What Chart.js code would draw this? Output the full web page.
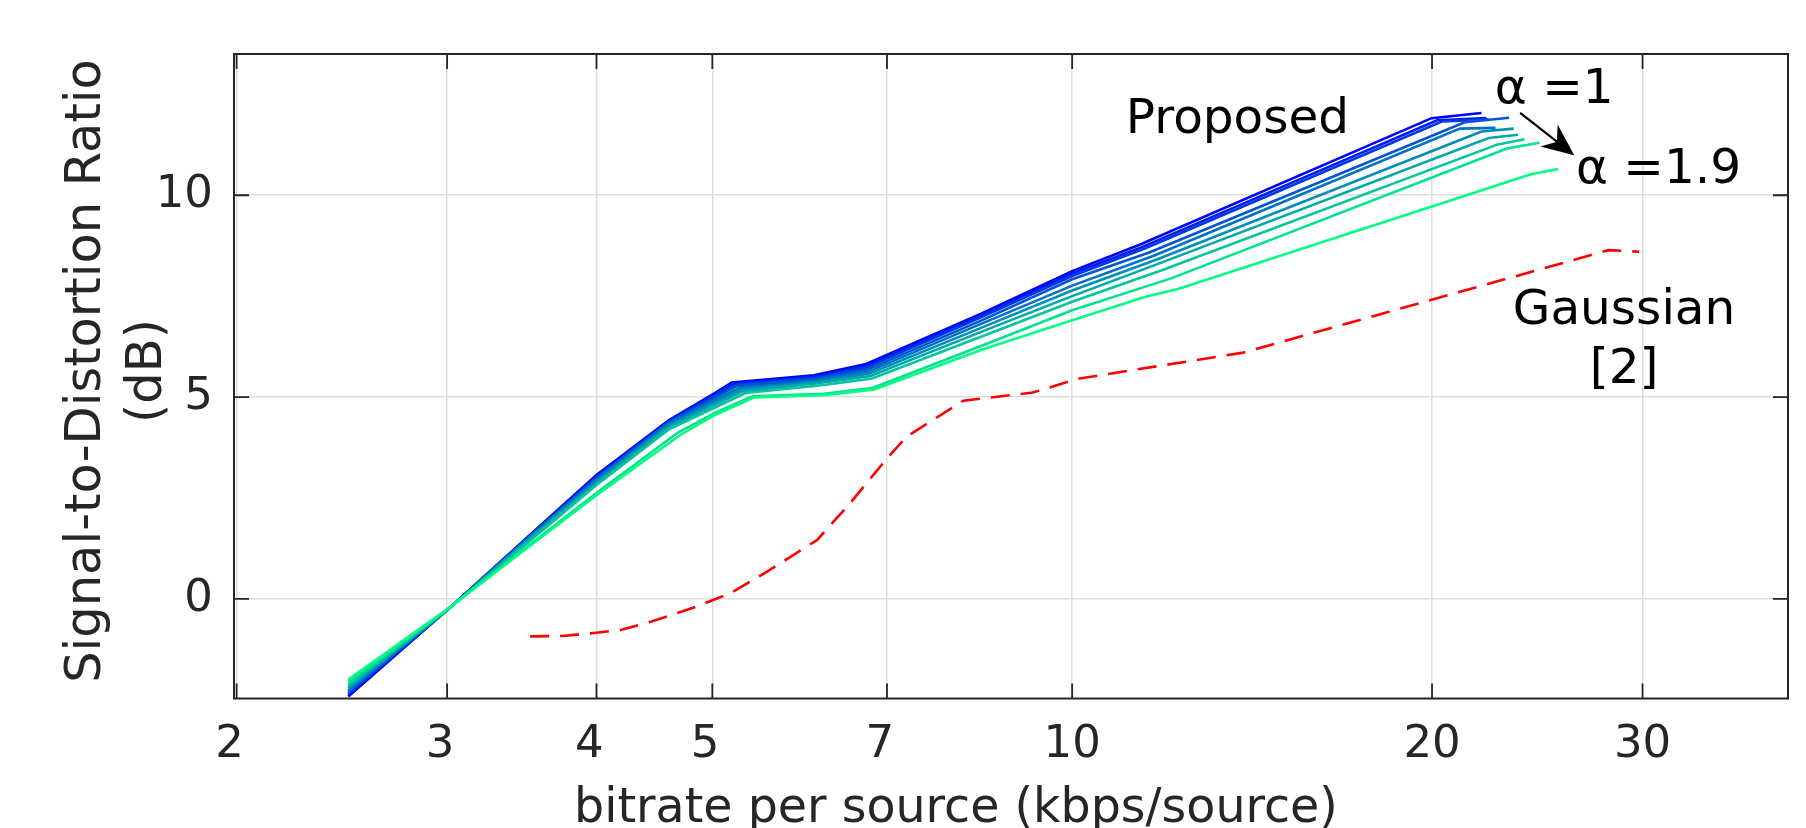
<!DOCTYPE html>
<html>
<head>
<meta charset="utf-8">
<script src="https://cdn.jsdelivr.net/npm/chart.js@4.4.1/dist/chart.umd.min.js"></script>
<style>
  html, body { margin: 0; padding: 0; background: #fff; }
</style>
</head>
<body>
<canvas id="sdr" width="1806" height="828"></canvas>
<script>
// tick labels
const xTicks = [2, 3, 4, 5, 7, 10, 20, 30];
const yTicks = [0, 5, 10];

// proposed scheme, one curve per alpha (bitrate kbps/source, SDR dB)
const alphas = [1.0, 1.1, 1.2, 1.3, 1.4, 1.5, 1.6, 1.7, 1.8, 1.9];

const rate10 = [2.48, 3.0, 3.5, 4.0, 4.6, 5.02, 5.19, 6.08, 6.71, 8.4, 10.0, 11.4, 19.98, 22.0];
const sdr10  = [-2.42, -0.28, 1.52, 3.07, 4.43, 5.09, 5.36, 5.54, 5.81, 7.07, 8.12, 8.78, 11.91, 12.04];

const rate11 = [2.48, 3.0, 3.5, 4.0, 4.6, 5.2, 6.09, 6.72, 8.4, 10.0, 11.45, 20.2, 22.2];
const sdr11  = [-2.38, -0.28, 1.51, 3.04, 4.41, 5.33, 5.51, 5.77, 7.03, 8.06, 8.72, 11.86, 11.91];

const rate12 = [2.48, 3.0, 3.5, 4.0, 4.6, 5.22, 6.1, 6.73, 8.4, 10.0, 11.5, 20.4, 22.3];
const sdr12  = [-2.35, -0.28, 1.5, 3.01, 4.39, 5.3, 5.48, 5.73, 6.98, 8.0, 8.68, 11.83, 11.88];

const rate13 = [2.48, 3.0, 3.5, 4.0, 4.6, 5.24, 6.1, 6.74, 8.4, 10.0, 11.6, 21.3, 23.2];
const sdr13  = [-2.3, -0.28, 1.49, 2.98, 4.37, 5.27, 5.45, 5.68, 6.9, 7.92, 8.58, 11.81, 11.92];

const rate14 = [2.48, 3.0, 3.5, 4.0, 4.6, 5.26, 6.1, 6.75, 8.4, 10.0, 11.7, 21.1, 22.6];
const sdr14  = [-2.27, -0.28, 1.47, 2.95, 4.34, 5.22, 5.41, 5.63, 6.82, 7.76, 8.5, 11.65, 11.67];

const rate15 = [2.48, 3.0, 3.5, 4.0, 4.6, 5.28, 6.12, 6.76, 8.4, 10.0, 11.8, 22.0, 23.4];
const sdr15  = [-2.22, -0.28, 1.45, 2.91, 4.3, 5.18, 5.38, 5.58, 6.72, 7.64, 8.42, 11.58, 11.65];

const rate16 = [2.48, 3.0, 3.5, 4.0, 4.6, 5.3, 6.15, 6.78, 8.4, 10.0, 11.8, 22.3, 23.6];
const sdr16  = [-2.18, -0.28, 1.42, 2.86, 4.25, 5.14, 5.35, 5.52, 6.62, 7.5, 8.3, 11.42, 11.5];

const rate17 = [2.48, 3.0, 3.5, 4.0, 4.6, 5.33, 6.2, 6.8, 8.4, 10.0, 11.9, 22.7, 23.9];
const sdr17  = [-2.13, -0.27, 1.38, 2.82, 4.2, 5.1, 5.3, 5.46, 6.5, 7.36, 8.15, 11.26, 11.39];

const rate18 = [2.48, 3.0, 3.5, 4.0, 4.68, 5.02, 5.4, 6.2, 6.8, 8.4, 10.0, 12.1, 23.1, 24.6];
const sdr18  = [-2.06, -0.27, 1.29, 2.62, 4.12, 4.6, 5.02, 5.08, 5.22, 6.27, 7.15, 7.94, 11.16, 11.3];

const rate19 = [2.48, 3.0, 3.5, 4.0, 4.7, 5.02, 5.42, 6.23, 6.83, 8.4, 10.0, 11.5, 12.3, 24.2, 25.5];
const sdr19  = [-2.0, -0.26, 1.26, 2.57, 4.06, 4.55, 4.99, 5.05, 5.19, 6.17, 6.9, 7.48, 7.69, 10.52, 10.65];

// Gaussian baseline [2]
const gaussRate = [3.52, 3.75, 4.0, 4.19, 4.44, 4.85, 5.18, 5.56, 6.12, 6.52, 7.0, 7.27, 8.11, 9.27, 10.1, 13.9, 28.1, 29.8];
const gaussSdr  = [-0.93, -0.92, -0.84, -0.77, -0.57, -0.19, 0.14, 0.68, 1.46, 2.37, 3.48, 4.02, 4.91, 5.11, 5.45, 6.1, 8.64, 8.6];

const rates = [rate10, rate11, rate12, rate13, rate14, rate15, rate16, rate17, rate18, rate19];
const sdrs  = [sdr10, sdr11, sdr12, sdr13, sdr14, sdr15, sdr16, sdr17, sdr18, sdr19];

const FONT = "'DejaVu Sans', sans-serif";
const INK = '#262626';

// MATLAB "winter" colormap: blue -> spring green
function winter(i, n) {
    const t = i / (n - 1);
    return `rgb(0, ${Math.round(255 * t)}, ${Math.round(255 * (1 - 0.5 * t))})`;
}

const pairs = (xs, ys) => xs.map((v, i) => ({ x: v, y: ys[i] }));

const datasets = alphas.map((a, i) => ({
    label: 'alpha = ' + a,
    data: pairs(rates[i], sdrs[i]),
    borderColor: winter(i, alphas.length),
    borderWidth: 2.6,
    pointRadius: 0,
    tension: 0,
    order: alphas.length - 1 - i, // later alphas on top, like MATLAB
}));

datasets.push({
    label: 'Gaussian [2]',
    data: pairs(gaussRate, gaussSdr),
    borderColor: '#ff0000',
    borderWidth: 2.6,
    borderDash: [19, 11],
    pointRadius: 0,
    tension: 0,
    order: 20,
});

// box with inward ticks, axis titles, arrow and text labels
const frameAndNotes = {
    id: 'frameAndNotes',
    afterDatasetsDraw(chart) {
        const { ctx, chartArea: a, scales: { x, y } } = chart;
        ctx.save();
        ctx.strokeStyle = INK;
        ctx.lineWidth = 2;
        ctx.strokeRect(a.left, a.top, a.right - a.left, a.bottom - a.top);
        ctx.lineWidth = 1.8;
        ctx.beginPath();
        xTicks.forEach(v => {
            const px = x.getPixelForValue(v);
            ctx.moveTo(px, a.bottom); ctx.lineTo(px, a.bottom - 15);
            ctx.moveTo(px, a.top); ctx.lineTo(px, a.top + 15);
        });
        yTicks.forEach(v => {
            const py = y.getPixelForValue(v);
            ctx.moveTo(a.left, py); ctx.lineTo(a.left + 15, py);
            ctx.moveTo(a.right, py); ctx.lineTo(a.right - 15, py);
        });
        ctx.stroke();

        // axis titles (the x label sits left of centre and runs off the bottom, as in the figure)
        ctx.fillStyle = INK;
        ctx.textBaseline = 'alphabetic';
        ctx.textAlign = 'center';
        ctx.font = `47.5px ${FONT}`;
        ctx.fillText('bitrate per source (kbps/source)', 956, 822);
        ctx.save();
        ctx.translate(0, 371);
        ctx.rotate(-Math.PI / 2);
        ctx.font = `49.5px ${FONT}`;
        ctx.fillText('Signal-to-Distortion Ratio', 0, 100);
        ctx.fillText('(dB)', 0, 161);
        ctx.restore();

        // arrow from alpha=1 to alpha=1.9
        const x0 = x.getPixelForValue(23.7), y0 = y.getPixelForValue(12.04);
        const x1 = x.getPixelForValue(26.3), y1 = y.getPixelForValue(10.99);
        const len = Math.hypot(x1 - x0, y1 - y0);
        const ux = (x1 - x0) / len, uy = (y1 - y0) / len;
        const nx = -uy, ny = ux;
        const L = 32, W = 14, notch = 10;
        ctx.strokeStyle = '#000';
        ctx.lineWidth = 2.2;
        ctx.beginPath();
        ctx.moveTo(x0, y0);
        ctx.lineTo(x1 - (L - notch) * ux, y1 - (L - notch) * uy);
        ctx.stroke();
        ctx.fillStyle = '#000';
        ctx.beginPath();
        ctx.moveTo(x1, y1);
        ctx.lineTo(x1 - L * ux + W * nx, y1 - L * uy + W * ny);
        ctx.lineTo(x1 - (L - notch) * ux, y1 - (L - notch) * uy);
        ctx.lineTo(x1 - L * ux - W * nx, y1 - L * uy - W * ny);
        ctx.closePath();
        ctx.fill();

        ctx.font = `48.5px ${FONT}`;
        ctx.textBaseline = 'middle';
        const notes = [
            { text: 'Proposed', x: 13.75, y: 11.86, align: 'center' },
            { text: 'α =1', x: 22.57, y: 12.6, align: 'left' },
            { text: 'α =1.9', x: 26.39, y: 10.61, align: 'left' },
            { text: 'Gaussian', x: 28.95, y: 7.12, align: 'center' },
            { text: '[2]', x: 28.95, y: 5.65, align: 'center' },
        ];
        notes.forEach(n => {
            ctx.textAlign = n.align;
            ctx.fillText(n.text, x.getPixelForValue(n.x), y.getPixelForValue(n.y));
        });
        ctx.restore();
    }
};

new Chart(document.getElementById('sdr'), {
    type: 'line',
    data: { datasets },
    options: {
        responsive: false,
        animation: false,
        layout: { padding: { left: 0, right: 18, top: 54, bottom: 0 } },
        plugins: {
            legend: { display: false },
            tooltip: { enabled: false },
        },
        scales: {
            x: {
                type: 'logarithmic',
                min: 1.99,
                max: 39.7,
                afterBuildTicks: (axis) => { axis.ticks = xTicks.map(v => ({ value: v })); },
                afterFit: (axis) => { axis.height = 129.5; },
                grid: { color: '#dedede', lineWidth: 1.5, drawTicks: false },
                border: { display: false },
                ticks: {
                    color: INK,
                    font: { family: FONT, size: 45 },
                    padding: 20,
                    autoSkip: false,
                    maxRotation: 0,
                    // single digits sit a little left of their tick in the figure
                    callback: (v) => (v < 10 ? v + ' ' : String(v)),
                },
                title: { display: false },
            },
            y: {
                min: -2.47,
                max: 13.5,
                afterBuildTicks: (axis) => { axis.ticks = yTicks.map(v => ({ value: v })); },
                afterFit: (axis) => { axis.width = 234; },
                grid: { color: '#dedede', lineWidth: 1.5, drawTicks: false },
                border: { display: false },
                ticks: {
                    color: INK,
                    font: { family: FONT, size: 45 },
                    padding: 21,
                    callback: (v) => String(v),
                },
                title: { display: false },
            },
        },
    },
    plugins: [frameAndNotes],
});
</script>
</body>
</html>
